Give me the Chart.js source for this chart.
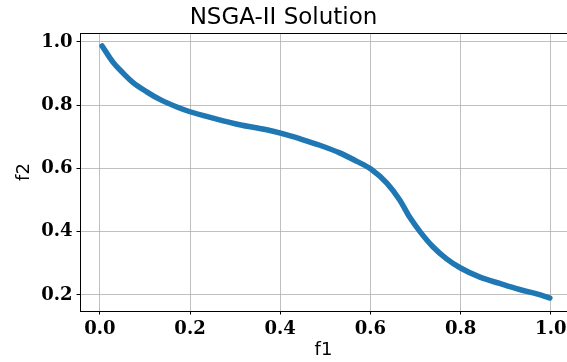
<!DOCTYPE html>
<html>
<head>
<meta charset="utf-8">
<script src="https://cdn.jsdelivr.net/npm/chart.js@4"></script>
<style>
  html, body { margin: 0; padding: 0; background: #fff; }
  #wrap { width: 567px; height: 362px; }
</style>
</head>
<body>
<div id="wrap"><canvas id="chart" width="567" height="362"></canvas></div>
<script>
// Pareto front
const f1Values = [0.005, 0.029, 0.051, 0.073, 0.104, 0.133, 0.171, 0.200, 0.251, 0.310, 0.370, 0.415,
                  0.443, 0.488, 0.532, 0.570, 0.601, 0.636, 0.665, 0.687, 0.710, 0.738, 0.769, 0.800,
                  0.843, 0.887, 0.931, 0.969, 0.998];
const f2Values = [0.987, 0.936, 0.902, 0.872, 0.842, 0.818, 0.794, 0.779, 0.759, 0.738, 0.722, 0.706,
                  0.694, 0.673, 0.649, 0.622, 0.598, 0.554, 0.500, 0.446, 0.400, 0.353, 0.314, 0.285,
                  0.256, 0.236, 0.217, 0.203, 0.190];
const xTicks = [0.0, 0.2, 0.4, 0.6, 0.8, 1.0];
const yTicks = [0.2, 0.4, 0.6, 0.8, 1.0];

const points = f1Values.map((x, i) => ({ x: x, y: f2Values[i] }));

const tickFont = { family: 'DejaVu Serif', size: 18, weight: 'bold' };
const labelFont = { family: 'DejaVu Sans', size: 18, lineHeight: 1.2 };
const gridColor = '#b0b0b0';

// top spine (matplotlib frame)
const framePlugin = {
    id: 'frame',
    afterDraw: (chart) => {
        const { ctx, chartArea } = chart;
        ctx.save();
        ctx.strokeStyle = '#000';
        ctx.lineWidth = 1;
        ctx.beginPath();
        ctx.moveTo(chartArea.left, chartArea.top + 0.5);
        ctx.lineTo(chartArea.right, chartArea.top + 0.5);
        ctx.stroke();
        ctx.restore();
    }
};

new Chart(document.getElementById('chart'), {
    type: 'scatter',
    plugins: [framePlugin],
    data: {
        datasets: [{
            label: 'NSGA-II',
            data: points,
            showLine: true,
            borderColor: '#1f77b4',
            backgroundColor: '#1f77b4',
            borderWidth: 5.5,
            borderCapStyle: 'round',
            borderJoinStyle: 'round',
            cubicInterpolationMode: 'monotone',
            pointRadius: 0
        }]
    },
    options: {
        responsive: false,
        animation: false,
        layout: { padding: 0 },
        plugins: {
            legend: { display: false },
            tooltip: { enabled: false },
            title: {
                display: true,
                text: 'NSGA-II Solution',
                color: '#000',
                font: { family: 'DejaVu Sans', size: 23, weight: 'normal', lineHeight: 1.0 },
                padding: { top: 6.5, bottom: 3.5 }
            }
        },
        scales: {
            x: {
                type: 'linear',
                min: -0.044,
                max: 1.036,
                afterBuildTicks: (s) => { s.ticks = xTicks.map(v => ({ value: v })); },
                afterFit: (s) => { s.height = 51; s.paddingLeft = 0; s.paddingRight = 0; },
                ticks: {
                    color: '#000',
                    font: tickFont,
                    padding: 4,
                    maxRotation: 0,
                    callback: (v) => v.toFixed(1)
                },
                grid: { color: gridColor, lineWidth: 0.8, tickColor: '#000', tickLength: 3.5, tickWidth: 1 },
                border: { color: '#000', width: 1 },
                title: { display: true, text: 'f1', color: '#000', font: labelFont, padding: { top: 0, bottom: 1 } }
            },
            y: {
                type: 'linear',
                min: 0.149,
                max: 1.028,
                afterBuildTicks: (s) => { s.ticks = yTicks.map(v => ({ value: v })); },
                afterFit: (s) => { s.width = 80; s.paddingTop = 0; s.paddingBottom = 0; },
                ticks: {
                    color: '#000',
                    font: tickFont,
                    padding: 4,
                    callback: (v) => v.toFixed(1)
                },
                grid: { color: gridColor, lineWidth: 0.8, tickColor: '#000', tickLength: 3.5, tickWidth: 1 },
                border: { color: '#000', width: 1 },
                title: { display: true, text: 'f2', color: '#000', font: labelFont, padding: { top: 14, bottom: 0 } }
            }
        }
    }
});
</script>
</body>
</html>
